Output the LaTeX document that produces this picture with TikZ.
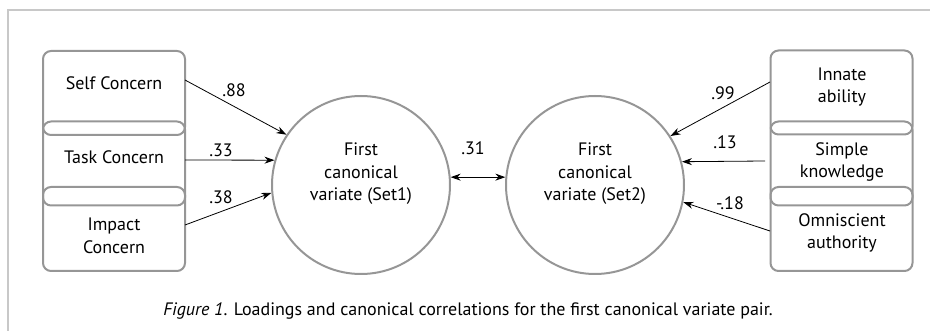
\documentclass[tikz,border=0pt]{standalone}
\usepackage{fontspec}
\setmainfont{PT Sans}
\usetikzlibrary{arrows.meta}
\definecolor{boxgray}{RGB}{150,150,150}
\definecolor{framegray}{RGB}{200,200,200}
\tikzset{
  varbox/.style={draw=boxgray,line width=2pt,rounded corners=8pt,minimum width=142pt,minimum height=84pt,inner sep=0pt},
  varcirc/.style={draw=boxgray,line width=2pt,circle,minimum size=178pt,inner sep=0pt},
  boxtext/.style={align=center,font=\fontsize{18}{22.5}\selectfont,inner sep=0pt},
  load/.style={font=\fontsize{18}{22}\selectfont,inner sep=0pt},
  loadarrow/.style={-{Stealth[length=10pt,width=7pt]},line width=0.8pt},
}
\begin{document}
\begin{tikzpicture}[x=1pt,y=-1pt]
\useasboundingbox (0,0) rectangle (930,331);

%Frame
\draw [framegray,line width=1.4pt] (8,331) -- (8,10) -- (930,10);

%Shape: left boxes
\node [varbox] (selfbox) at (114,93) {};
\node [varbox] (taskbox) at (114,163.5) {};
\node [varbox] (impactbox) at (114,229) {};
%Shape: right boxes
\node [varbox] (innatebox) at (841.5,92.5) {};
\node [varbox] (simplebox) at (841.5,163.5) {};
\node [varbox] (omnibox) at (841.5,229) {};

% Text Node
\node [boxtext] (selftxt) at (114,83) {Self Concern};
\node [boxtext] (tasktxt) at (114,157) {Task Concern};
\node [boxtext] (impacttxt) at (114,236) {Impact\\Concern};
\node [boxtext] (innatetxt) at (842,87) {Innate\\ability};
\node [boxtext] (simpletxt) at (842,162) {Simple\\knowledge};
\node [boxtext] (omnitxt) at (842,233) {Omniscient\\authority};

%Shape: Circle
\node [varcirc] (setone) at (361,185) {};
\node [varcirc] (settwo) at (595,185) {};
\node [boxtext] (setonetxt) at (361,174) {First\\canonical\\variate (Set1)};
\node [boxtext] (settwotxt) at (595,174) {First\\canonical\\variate (Set2)};

%Straight Lines
\coordinate (selfout) at (185,80);
\coordinate (taskout) at (185,160);
\coordinate (impactout) at (185,225);
\coordinate (innateout) at (770,82);
\coordinate (simpleout) at (765,161);
\coordinate (omniout) at (770,231);
\draw [loadarrow] (selfout) -- (setone.146);
\draw [loadarrow] (taskout) -- (setone.164);
\draw [loadarrow] (impactout) -- (setone.185);
\draw [loadarrow] (innateout) -- (settwo.33);
\draw [loadarrow] (simpleout) -- (settwo.15);
\draw [loadarrow] (omniout) -- (settwo.-11);
\draw [{Stealth[length=10pt,width=7pt]}-{Stealth[length=10pt,width=7pt]},line width=0.8pt] (setone.5) -- (settwo.175);

% Text Node
\node [load] (lselfl) at (234,90) {.88};
\node [load] (ltask) at (221,150) {.33};
\node [load] (limpact) at (221,197) {.38};
\node [load] (linnate) at (723,93) {.99};
\node [load] (lsimple) at (725,142) {.13};
\node [load] (lomni) at (730,203) {-.18};
\node [load] (lpair) at (473,148) {.31};

% Caption
\node [load] (caption) at (468,311) {\textit{Figure 1}. Loadings and canonical correlations for the first canonical variate pair.};
\end{tikzpicture}
\end{document}
